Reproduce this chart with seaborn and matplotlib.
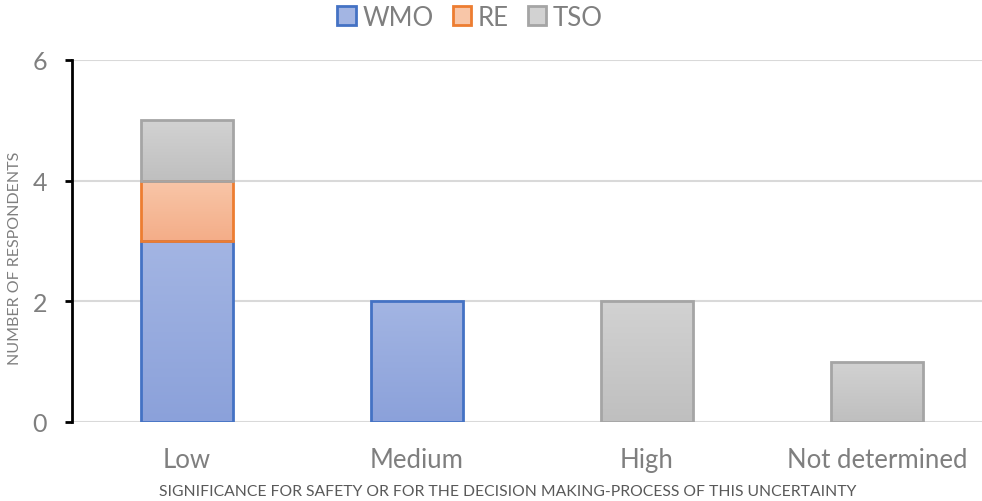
import numpy as np
import pandas as pd
import matplotlib
matplotlib.use("Agg")
import matplotlib.pyplot as plt
from matplotlib.colors import LinearSegmentedColormap
from matplotlib.patches import Patch
import seaborn as sns

categories = ["Low", "Medium", "High", "Not determined"]
wmo = [3, 2, 0, 0]
re_ = [1, 0, 0, 0]
tso = [1, 0, 2, 1]
series_names = ["WMO", "RE", "TSO"]
y_ticks = [0, 2, 4, 6]

edge_colors = {"WMO": "#4472C4", "RE": "#ED7D31", "TSO": "#A5A5A5"}
fill_top = {"WMO": "#A3B5E3", "RE": "#F8C6A8", "TSO": "#D2D2D2"}
fill_bottom = {"WMO": "#8BA1DA", "RE": "#F4AD88", "TSO": "#BFBFBF"}

sns.set_theme(style="white")
plt.rcParams["font.family"] = ["Lato", "DejaVu Sans"]

fig = plt.figure(figsize=(9.82, 5.02), dpi=100)
ax = fig.add_axes([72 / 982, 79 / 502, 920 / 982, 362 / 502])

df = pd.DataFrame({"category": categories, "WMO": wmo, "RE": re_, "TSO": tso})
bottoms = np.zeros(len(categories))
bar_groups = []
for name in series_names:
    vals = df[name].to_numpy(dtype=float)
    n_before = len(ax.patches)
    sns.barplot(data=df.assign(v=vals), x="category", y="v", ax=ax,
                bottom=bottoms, width=0.4, color=fill_top[name],
                edgecolor=edge_colors[name], linewidth=2, zorder=3)
    bar_groups.append((name, ax.patches[n_before:], vals))
    bottoms = bottoms + vals

ax.set_xlim(-0.5, 3.5)
ax.set_ylim(0, 6)

# vertical gradient fill clipped to each bar
for name, patches, vals in bar_groups:
    cmap = LinearSegmentedColormap.from_list(name, [fill_bottom[name], fill_top[name]])
    grad = np.linspace(0, 1, 256).reshape(-1, 1)
    for p, v in zip(patches, vals):
        if v <= 0:
            p.set_visible(False)
            continue
        x0, y0 = p.get_x(), p.get_y()
        w, h = p.get_width(), p.get_height()
        im = ax.imshow(grad, cmap=cmap, origin="lower", aspect="auto",
                       extent=(x0, x0 + w, y0, y0 + h), zorder=3.5,
                       interpolation="bilinear")
        im.set_clip_path(p)
        p.set_facecolor("none")
        p.set_zorder(4)

ax.set_xlim(-0.5, 3.5)
ax.set_ylim(0, 6)
ax.set_yticks(y_ticks)
ax.yaxis.grid(True, color="#D9D9D9", linewidth=1.5, zorder=0)
ax.xaxis.grid(False)
for s in ["top", "right", "bottom"]:
    ax.spines[s].set_visible(False)
ax.spines["left"].set_color("black")
ax.spines["left"].set_linewidth(2)
ax.spines["left"].set_zorder(5)

ax.tick_params(axis="y", left=True, length=5, width=2, color="black",
               pad=13, labelsize=18, labelcolor="#7F7F7F")
ax.tick_params(axis="x", bottom=False, length=0, pad=18,
               labelsize=18.5, labelcolor="#7F7F7F")

ax.set_ylabel("NUMBER OF RESPONDENTS", fontsize=11.5, color="#7F7F7F")
ax.yaxis.set_label_coords(-50 / 920, 0.455)
ax.set_xlabel("SIGNIFICANCE FOR SAFETY OR FOR THE DECISION MAKING-PROCESS OF THIS UNCERTAINTY",
              fontsize=11.3, color="#595959", va="center")
ax.xaxis.set_label_coords((508 - 72) / 920, -(492 - 423) / 362)

handles = [Patch(facecolor=fill_top[n], edgecolor=edge_colors[n], linewidth=2, label=n)
           for n in series_names]
fig.legend(handles=handles, loc="center", bbox_to_anchor=(470 / 982, 1 - 18 / 502),
           ncol=3, frameon=False, fontsize=18.5, labelcolor="#7F7F7F",
           handlelength=0.72, handleheight=0.72, handletextpad=0.25, columnspacing=0.75)

fig.savefig("out.png", dpi=100)
